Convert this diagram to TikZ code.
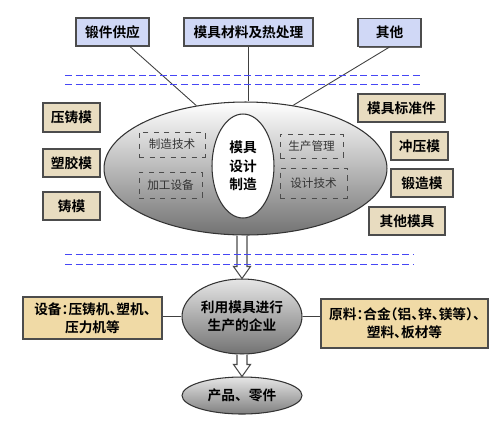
\documentclass[tikz,border=0pt]{standalone}
\usepackage{fontspec}
\newfontfamily\cjk{Noto Sans CJK SC}[BoldFont={* Bold}]
\newfontfamily\cjkhalt{Noto Sans CJK SC}[BoldFont={* Bold},RawFeature=+halt]
\usetikzlibrary{shapes,calc,positioning,shadows}
\definecolor{bluebox}{RGB}{208,216,246}
\definecolor{tanbox}{RGB}{232,220,192}
\definecolor{orangebox}{RGB}{240,218,166}
\definecolor{sepblue}{RGB}{70,70,245}

\begin{document}
\begin{tikzpicture}
[
	x=0.02cm, y=-0.02cm,
	box/.style={rectangle,draw=black!70,line width=0.6pt,inner sep=0pt,minimum height=0.56cm,
		font=\cjk\bfseries\fontsize{7.8}{10.5}\selectfont,align=center,
		drop shadow={shadow xshift=0.6pt,shadow yshift=-0.6pt,fill=black!60,opacity=1}},
	topbox/.style={box,fill=bluebox},
	mould/.style={box,fill=tanbox},
	supply/.style={box,fill=orangebox,font=\cjkhalt\bfseries\fontsize{7.8}{10.3}\selectfont},
	field/.style={rectangle,draw=black!70,dashed,line width=0.5pt,inner sep=0pt,
		font=\cjk\fontsize{6.6}{8}\selectfont,text=black!80},
	oval/.style={ellipse,draw=black!80,line width=0.6pt,inner sep=0pt,align=center,
		font=\cjk\bfseries\fontsize{7.8}{10.5}\selectfont},
	link/.style={draw=black!75,line width=0.5pt},
	sep/.style={draw=sepblue,dashed,dash pattern=on 4pt off 2pt,line width=0.5pt},
	hollow/.style={fill=white,draw=black!70,line width=0.6pt,
		to path={let \p1=(\tikztostart), \p2=(\tikztotarget) in
			(\x2-0.1cm,\y1) -- (\x2-0.1cm,\y2+0.24cm) -- (\x2-0.17cm,\y2+0.24cm) -- (\x2,\y2)
			-- (\x2+0.17cm,\y2+0.24cm) -- (\x2+0.1cm,\y2+0.24cm) -- (\x2+0.1cm,\y1)}},
]
	\useasboundingbox (0,0) rectangle (500,424);

	% top row
	\node[topbox,minimum width=1.46cm] (forge) at (112.5,32) {锻件供应};
	\node[topbox,minimum width=2.58cm] (material) at (248.5,32) {模具材料及热处理};
	\node[topbox,minimum width=1.26cm] (othertop) at (389.5,32.5) {其他};

	% centre
	\node[oval,top color=white,bottom color=black!55,minimum width=5.66cm,minimum height=2.66cm] (big) at (245.5,168.5) {};
	\node[oval,fill=white,minimum width=1.24cm,minimum height=2.08cm] (core) at (243,166) {模具\\设计\\制造};

	\node[field,minimum width=1.32cm,minimum height=0.5cm] (tech) at (172,144.5) {制造技术};
	\node[field,minimum width=1.26cm,minimum height=0.52cm] (equipf) at (170.5,185) {加工设备};
	\node[field,minimum width=1.26cm,minimum height=0.48cm] (manage) at (311.5,146) {生产管理};
	\node[field,minimum width=1.34cm,minimum height=0.6cm] (design) at (313.5,183) {设计技术};

	% moulds
	\node[mould,minimum width=1.14cm,minimum height=0.58cm] (diecast) at (71.5,117.5) {压铸模};
	\node[mould,minimum width=1.14cm] (plastic) at (71.5,163) {塑胶模};
	\node[mould,minimum width=1.14cm] (casting) at (71.5,206) {铸模};

	\node[mould,minimum width=1.74cm] (standard) at (401.5,108) {模具标准件};
	\node[mould,minimum width=1.14cm] (stamping) at (419.5,146) {冲压模};
	\node[mould,minimum width=1.24cm] (forging) at (422,183) {锻造模};
	\node[mould,minimum width=1.52cm] (otherm) at (407,221) {其他模具};

	% lower part
	\node[oval,top color=black!10,bottom color=black!55,minimum width=2.4cm,minimum height=1.5cm] (ent) at (242,316.5) {利用模具进行\\生产的企业};
	\node[oval,top color=black!10,bottom color=black!50,minimum width=2.4cm,minimum height=0.74cm] (prod) at (242,395.5) {产品、零件};

	\node[supply,minimum width=2.78cm,minimum height=0.84cm] (equip) at (92.5,318) {设备：压铸机、塑机、\\压力机等};
	\node[supply,minimum width=3.34cm,minimum height=0.98cm] (raw) at (404.5,323.5) {原料：合金（铝、锌、镁等）、\\塑料、板材等};

	% connectors
	\draw[link] ($(forge.south)+(17.5,0)$) -- (big.128);
	\draw[link] (material.south) -- (material.south |- big.north);
	\draw[link] (othertop.south) -- (big.53);
	\draw[link] (ent.west) -- (ent.west -| equip.east);
	\draw[link] (ent.east) -- (ent.east -| raw.west);

	\draw[hollow] (big.south) to (ent.north);
	\draw[hollow] (ent.south) to (prod.north);

	% separators
	\foreach \y in {75,84}
		\draw[sep] (65,\y) -- (423,\y);
	\foreach \y in {254,264}
		\draw[sep] (65,\y) -- (413,\y);
\end{tikzpicture}
\end{document}
